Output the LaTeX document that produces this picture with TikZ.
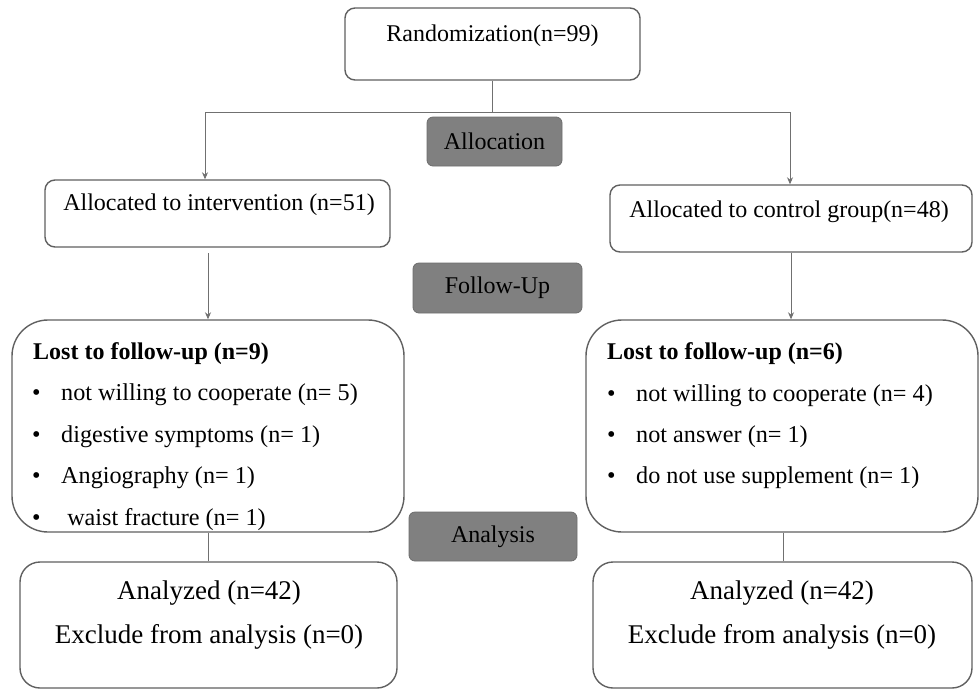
\documentclass[tikz,border=0pt]{standalone}
\usepackage{fontspec}
\setmainfont{Liberation Serif}
\usetikzlibrary{arrows.meta}
\definecolor{edge}{HTML}{606060}
\definecolor{conn}{HTML}{707070}
\definecolor{grayfill}{HTML}{808080}
\tikzset{
  box/.style={draw=edge, line width=1.4pt, rounded corners=10pt, fill=white, inner sep=0pt},
  bigbox/.style={draw=edge, line width=1.4pt, rounded corners=36pt, fill=white, inner sep=0pt},
  phase/.style={draw=grayfill!85!black, line width=0.8pt, fill=grayfill, rounded corners=6pt, inner sep=0pt},
  txt/.style={inner sep=0pt, font=\fontsize{24}{28}\selectfont},
  bigtxt/.style={inner sep=0pt, font=\fontsize{27}{32}\selectfont},
  btxt/.style={inner sep=0pt, font=\fontsize{24}{28}\selectfont\bfseries, anchor=west},
  ltxt/.style={inner sep=0pt, font=\fontsize{24.2}{28}\selectfont, anchor=west},
  conline/.style={draw=conn, line width=0.9pt},
  arr/.style={conline, -{Stealth[length=7pt,width=6pt]}}
}
\begin{document}
\begin{tikzpicture}[x=1pt,y=-1pt]
\useasboundingbox (0,0) rectangle (979,689);
% boxes
\node[box, minimum width=295pt, minimum height=72pt] (rand) at (492.5,44) {};
\node[box, minimum width=345pt, minimum height=67pt] (a1) at (217.5,213.5) {};
\node[box, minimum width=362pt, minimum height=67pt] (a2) at (791,218.5) {};
\node[bigbox, minimum width=392pt, minimum height=212pt] (l1) at (208,426) {};
\node[bigbox, minimum width=392pt, minimum height=212pt] (l2) at (782,426) {};
\node[box, rounded corners=20pt, minimum width=377pt, minimum height=126pt] (b1) at (208.5,625) {};
\node[box, rounded corners=20pt, minimum width=379pt, minimum height=126pt] (b2) at (782.5,625) {};
% phase labels
\node[phase, minimum width=135pt, minimum height=49pt] (alloc) at (494.5,141.5) {};
\node[txt] at (alloc.center) {Allocation};
\node[phase, minimum width=169pt, minimum height=50pt] (fol) at (497.5,288) {};
\node[txt] at (fol.center) {Follow-Up};
\node[phase, minimum width=168pt, minimum height=49pt] (ana) at (493,536.5) {};
\node[txt] at (ana.center) {Analysis};
% texts
\node[txt] (trand) at (492.5,36) {Randomization(n=99)};
\node[txt] (ta1) at (219,205) {Allocated to intervention (n=51)};
\node[txt] (ta2) at (789,212) {Allocated to control group(n=48)};
\node[btxt] (tl1) at (33,354) {Lost to follow-up (n=9)};
\node[btxt] (tl2) at (607,354) {Lost to follow-up (n=6)};
\foreach \y/\t [count=\i] in {395/not willing to cooperate (n= 5),437/digestive symptoms (n= 1),478/Angiography (n= 1),520/\ waist fracture (n= 1)}{
  \node[ltxt] (bl\i) at (32,\y) {•};
  \node[ltxt] (il\i) at (61,\y) {\t};
}
\foreach \y/\t [count=\i] in {396/not willing to cooperate (n= 4),437/not answer (n= 1),478/do not use supplement (n= 1)}{
  \node[ltxt] (br\i) at (607,\y) {•};
  \node[ltxt] (ir\i) at (636,\y) {\t};
}
\node[bigtxt] (an1) at (209,593) {Analyzed (n=42)};
\node[bigtxt] (ex1) at (209,637) {Exclude from analysis (n=0)};
\node[bigtxt] (an2) at (782,593) {Analyzed (n=42)};
\node[bigtxt] (ex2) at (782,637) {Exclude from analysis (n=0)};
% connectors
\coordinate (split) at (492.5,112);
\coordinate (jl) at (205,112);
\coordinate (jr) at (790,112);
\draw[conline] (rand.south) -- (split);
\draw[conline] (jl) -- (jr);
\draw[arr] (jl) -- (jl |- a1.north);
\draw[arr] (jr) -- (jr |- a2.north);
\coordinate (dl) at (208,253);
\coordinate (dr) at (791,252);
\draw[arr] (dl) -- (dl |- l1.north);
\draw[arr] (dr |- a2.south) -- (dr |- l2.north);
\coordinate (el) at (208,532);
\coordinate (er) at (783,532);
\draw[conline] (el |- l1.south) -- (el |- b1.north);
\draw[conline] (er |- l2.south) -- (er |- b2.north);
\end{tikzpicture}
\end{document}
